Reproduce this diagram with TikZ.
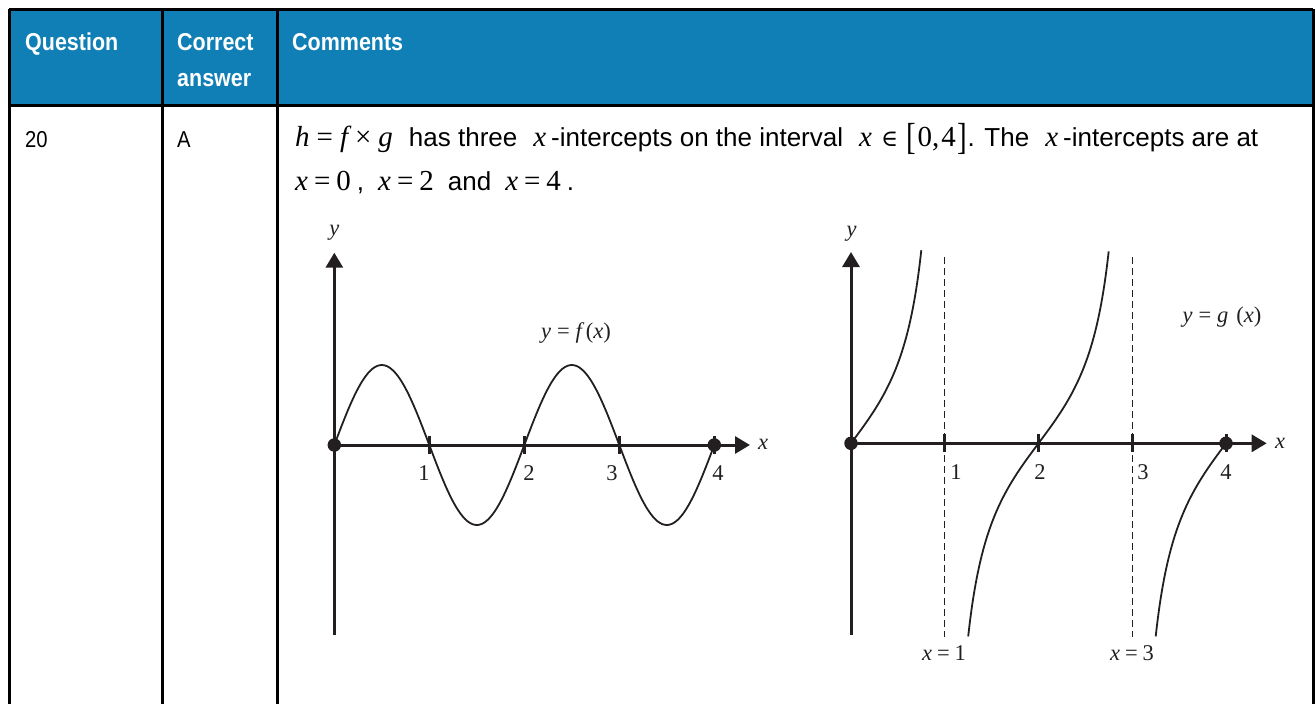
\documentclass[tikz,border=0pt]{standalone}
\usepackage{fontspec}
\usepackage{graphicx}
\setmainfont{Liberation Sans}
\newfontfamily\narrowsans[FakeStretch=0.88]{Liberation Sans}
\newfontfamily\mthf{Liberation Serif}
\newfontfamily\symf{DejaVu Serif}
\newfontfamily\gfont{Liberation Serif}
\usetikzlibrary{arrows.meta}
\definecolor{hdrblue}{RGB}{16,127,182}
\definecolor{ink}{RGB}{35,31,32}
\newcommand\mth{\fontsize{29}{29}\selectfont\mthf}
\newcommand\mv[1]{{\mth\itshape #1}}
\newcommand\mo[1]{{\mth #1}}
\newcommand\bigbrack[1]{\raisebox{-0.14em}{\mth\scalebox{1}[1.3]{#1}}}
\begin{document}
\begin{tikzpicture}[x=1pt,y=-1pt,
  tbl/.style={line width=3pt,black},
  hdrtxt/.style={anchor=base west,inner sep=0pt,text=white,font=\narrowsans\bfseries\fontsize{24.4}{30}\selectfont},
  bodytxt/.style={anchor=base west,inner sep=0pt,font=\narrowsans\fontsize{23}{28}\selectfont},
  cmt/.style={anchor=base west,inner sep=0pt,font=\fontsize{26}{28}\selectfont},
  axis/.style={line width=3pt,ink},
  axarrow/.style={axis,-{Triangle[length=15pt,width=17pt]}},
  tick/.style={line width=3pt,ink},
  curve/.style={line width=1.8pt,ink},
  asym/.style={line width=1.2pt,ink,dash pattern=on 7pt off 4pt},
  gl/.style={inner sep=0pt,text=ink,font=\gfont\fontsize{22.5}{25}\selectfont},
  dotn/.style={circle,fill=ink,inner sep=0pt,minimum size=13.5pt}]
\useasboundingbox (0,0) rectangle (1316,704);
% table
\fill[hdrblue] (9,9) rectangle (1313,105);
\coordinate (tTL) at (9,9); \coordinate (tTR) at (1313,9);
\coordinate (tHL) at (9,105); \coordinate (tHR) at (1313,105);
\coordinate (tBL) at (9,704); \coordinate (tBR) at (1313,704);
\coordinate (c1T) at (162,9); \coordinate (c1B) at (162,704);
\coordinate (c2T) at (277,9); \coordinate (c2B) at (277,704);
\draw[tbl] (tTL) -- (tTR);
\draw[tbl] (tHL) -- (tHR);
\draw[tbl] (tTL) -- (tBL);
\draw[tbl] (tTR) -- (tBR);
\draw[tbl] (c1T) -- (c1B);
\draw[tbl] (c2T) -- (c2B);
\node[hdrtxt] (hq) at (25,50) {Question};
\node[hdrtxt] (hc) at (177,50) {Correct};
\node[hdrtxt] (ha) at (177,86.7) {answer};
\node[hdrtxt] (hm) at (292,50) {Comments};
\node[bodytxt] (q20) at (25,147) {20};
\node[bodytxt] (qA) at (177,147) {A};
\node[cmt] (line1) at (295,146) {\mv{h}\hspace{7pt}\mo{=}\hspace{7pt}\mv{f}\hspace{7pt}\mo{×}\hspace{7pt}\mv{g}\hspace{16pt}has three\hspace{16pt}\mv{x}\hspace{5pt}-intercepts on the interval\hspace{16pt}\mv{x}\hspace{9pt}{\symf\fontsize{23}{23}\selectfont ∈}\hspace{8pt}\bigbrack{[}\hspace{2pt}\mo{0,\hspace{2pt}4}\hspace{2pt}\bigbrack{]}. The\hspace{16pt}\mv{x}\hspace{5pt}-intercepts are at};
\node[cmt] (line2) at (295,190) {\mv{x}\hspace{6pt}\mo{=}\hspace{6pt}\mo{0}\hspace{6pt},\hspace{14pt}\mv{x}\hspace{6pt}\mo{=}\hspace{6pt}\mo{2}\hspace{14pt}and\hspace{14pt}\mv{x}\hspace{6pt}\mo{=}\hspace{6pt}\mo{4}\hspace{6pt}.};
% ---------- left graph f ----------
\coordinate (LO) at (334.3,445);
\coordinate (Lb) at (334.3,635);
\coordinate (Lt) at (334.3,252.7);
\coordinate (Lr) at (750,445);
\draw[axis] (LO) -- (Lb);
\draw[axarrow] (LO) -- (Lt);
\draw[axarrow] (LO) -- (Lr);
\foreach \k in {1,2,3,4} {
  \coordinate (Lk\k a) at ({334.3+95*\k},436);
  \coordinate (Lk\k b) at ({334.3+95*\k},454);
  \draw[tick] (Lk\k a) -- (Lk\k b);
}
\draw[curve] plot[domain=0:4,samples=161,smooth] ({334.3+95*\x},{445-80*sin(180*\x)});
\node[dotn] (Ld0) at (LO) {};
\node[dotn] (Ld4) at (714.3,445) {};
\node[gl] (Ll1) at (424,473) {1};
\node[gl] (Ll2) at (529,473) {2};
\node[gl] (Ll3) at (612,473) {3};
\node[gl] (Ll4) at (718,473) {4};
\node[gl] (Lx) at (763,444) {\itshape x};
\node[gl] (Ly) at (334.3,233) {\itshape y};
\node[gl] (Lf) at (576,333) {\itshape y\hspace{6pt}\upshape =\hspace{6pt}\itshape f\hspace{4pt}\upshape(\itshape x\upshape)};
% ---------- right graph g ----------
\coordinate (RO) at (851,443.3);
\coordinate (Rb) at (851,635);
\coordinate (Rt) at (851,252);
\coordinate (Rr) at (1266.7,443.3);
\draw[axis] (RO) -- (Rb);
\draw[axarrow] (RO) -- (Rt);
\draw[axarrow] (RO) -- (Rr);
\coordinate (A1t) at (944.75,257); \coordinate (A1b) at (944.75,637);
\coordinate (A3t) at (1132.25,257); \coordinate (A3b) at (1132.25,637);
\draw[asym] (A1t) -- (A1b);
\draw[asym] (A3t) -- (A3b);
\foreach \k in {1,2,3,4} {
  \coordinate (Rk\k a) at ({851+93.75*\k},434.3);
  \coordinate (Rk\k b) at ({851+93.75*\k},452.3);
  \draw[tick] (Rk\k a) -- (Rk\k b);
}
\draw[curve] plot[domain=0:0.75,samples=60,smooth] ({851+93.75*\x},{443.3-80*tan(90*\x)});
\draw[curve] plot[domain=1.25:2.75,samples=100,smooth] ({851+93.75*\x},{443.3-80*tan(90*\x)});
\draw[curve] plot[domain=3.25:4,samples=60,smooth] ({851+93.75*\x},{443.3-80*tan(90*\x)});
\node[dotn] (Rd0) at (RO) {};
\node[dotn] (Rd4) at (1226,443.3) {};
\node[gl] (Rl1) at (956,472) {1};
\node[gl] (Rl2) at (1040,472) {2};
\node[gl] (Rl3) at (1143,472) {3};
\node[gl] (Rl4) at (1226,472) {4};
\node[gl] (Rx) at (1280,443) {\itshape x};
\node[gl] (Ry) at (851.7,234) {\itshape y};
\node[gl] (Rg) at (1222,317) {\itshape y\hspace{6pt}\upshape =\hspace{6pt}\itshape g\hspace{8pt}\upshape(\itshape x\upshape)};
\node[gl] (Rx1) at (944,653) {\itshape x\hspace{5pt}\upshape =\hspace{5pt}1};
\node[gl] (Rx3) at (1132,653) {\itshape x\hspace{5pt}\upshape =\hspace{5pt}3};
\end{tikzpicture}
\end{document}
